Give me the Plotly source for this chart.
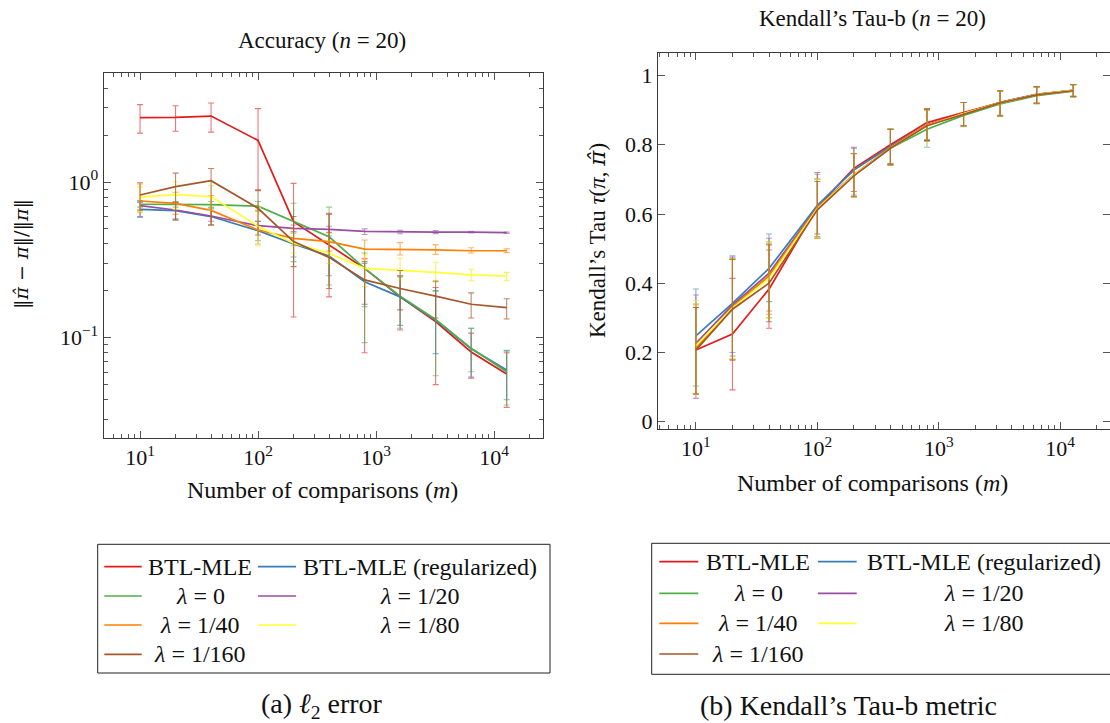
import plotly.graph_objects as go

# ---------------- data ----------------
m = [10, 20, 40, 100, 200, 400, 800, 1600, 3200, 6400, 12800]

names = ["BTL-MLE", "BTL-MLE (regularized)", "<i>λ</i> = 0", "<i>λ</i> = 1/20",
         "<i>λ</i> = 1/40", "<i>λ</i> = 1/80", "<i>λ</i> = 1/160"]
colors = ["#e41a1c", "#377eb8", "#4daf4a", "#984ea3", "#ff7f00", "#ffff33", "#a65628"]
err_colors = ["rgba(228,26,28,0.6)", "rgba(55,126,184,0.6)", "rgba(77,175,74,0.6)",
              "rgba(152,78,163,0.6)", "rgba(255,127,0,0.6)", "rgba(235,235,40,0.7)",
              "rgba(166,86,40,0.7)"]

# l2 error (relative) : mean, lower, upper
l2_mle      = [2.59, 2.60, 2.65, 1.85, 0.556, 0.394, 0.279, 0.183, 0.127, 0.081, 0.0585]
l2_mle_lo   = [2.06, 2.12, 2.09, 0.88, 0.136, 0.183, 0.080, 0.112, 0.050, 0.055, 0.0357]
l2_mle_hi   = [3.14, 3.09, 3.22, 2.96, 0.98, 0.62, 0.32, 0.25, 0.21, 0.107, 0.080]
l2_reg      = [0.667, 0.655, 0.60, 0.487, 0.40, 0.335, 0.229, 0.183, 0.130, 0.085, 0.062]
l2_reg_lo   = [0.593, 0.58, 0.53, 0.42, 0.33, 0.25, 0.158, 0.120, 0.079, 0.056, 0.040]
l2_reg_hi   = [0.74, 0.74, 0.68, 0.56, 0.47, 0.45, 0.30, 0.246, 0.20, 0.115, 0.083]
l2_l0       = [0.72, 0.718, 0.716, 0.70, 0.556, 0.445, 0.279, 0.185, 0.131, 0.0855, 0.0605]
l2_l0_lo    = [0.69, 0.69, 0.69, 0.65, 0.308, 0.218, 0.093, 0.115, 0.057, 0.0605, 0.037]
l2_l0_hi    = [0.75, 0.75, 0.75, 0.75, 0.73, 0.69, 0.35, 0.25, 0.20, 0.115, 0.082]
l2_l20      = [0.706, 0.661, 0.605, 0.524, 0.504, 0.497, 0.482, 0.477, 0.477, 0.476, 0.473]
l2_l20_lo   = [0.60, 0.57, 0.56, 0.49, 0.48, 0.475, 0.46, 0.465, 0.466, 0.47, 0.468]
l2_l20_hi   = [0.76, 0.74, 0.66, 0.56, 0.53, 0.52, 0.50, 0.49, 0.488, 0.482, 0.478]
l2_l40      = [0.755, 0.73, 0.657, 0.492, 0.435, 0.414, 0.371, 0.371, 0.367, 0.362, 0.362]
l2_l40_lo   = [0.64, 0.62, 0.53, 0.40, 0.39, 0.36, 0.324, 0.34, 0.343, 0.35, 0.352]
l2_l40_hi   = [0.97, 0.86, 0.82, 0.66, 0.50, 0.47, 0.424, 0.408, 0.396, 0.378, 0.372]
l2_l80      = [0.80, 0.83, 0.806, 0.52, 0.404, 0.348, 0.279, 0.272, 0.263, 0.253, 0.249]
l2_l80_lo   = [0.645, 0.667, 0.66, 0.39, 0.35, 0.30, 0.213, 0.235, 0.228, 0.232, 0.232]
l2_l80_hi   = [0.93, 1.0, 0.95, 0.69, 0.47, 0.42, 0.34, 0.324, 0.305, 0.275, 0.263]
l2_l160     = [0.825, 0.933, 1.02, 0.678, 0.414, 0.328, 0.235, 0.207, 0.185, 0.164, 0.156]
l2_l160_lo  = [0.66, 0.57, 0.53, 0.457, 0.286, 0.207, 0.164, 0.151, 0.134, 0.134, 0.132]
l2_l160_hi  = [0.99, 1.14, 1.22, 0.89, 0.60, 0.63, 0.308, 0.27, 0.231, 0.194, 0.178]

# Kendall's tau-b : mean, lower, upper
kt_mle      = [0.207, 0.2535, 0.383, 0.62, 0.732, 0.80, 0.864, 0.893, 0.922, 0.945, 0.957]
kt_mle_lo   = [0.08, 0.092, 0.27, 0.53, 0.665, 0.742, 0.812, 0.855, 0.884, 0.92, 0.939]
kt_mle_hi   = [0.33, 0.414, 0.496, 0.72, 0.793, 0.845, 0.903, 0.922, 0.956, 0.968, 0.974]
kt_reg      = [0.248, 0.342, 0.443, 0.625, 0.727, 0.796, 0.857, 0.89, 0.922, 0.946, 0.957]
kt_reg_lo   = [0.103, 0.20, 0.347, 0.535, 0.655, 0.745, 0.815, 0.855, 0.885, 0.92, 0.94]
kt_reg_hi   = [0.3835, 0.479, 0.5425, 0.715, 0.79, 0.845, 0.90, 0.922, 0.956, 0.968, 0.974]
kt_l0       = [0.21, 0.332, 0.421, 0.62, 0.713, 0.79, 0.845, 0.885, 0.918, 0.942, 0.955]
kt_l0_lo    = [0.08, 0.18, 0.30, 0.53, 0.65, 0.742, 0.793, 0.852, 0.882, 0.918, 0.938]
kt_l0_hi    = [0.34, 0.47, 0.52, 0.70, 0.775, 0.845, 0.90, 0.922, 0.955, 0.967, 0.972]
kt_l20      = [0.2266, 0.337, 0.429, 0.62, 0.713, 0.792, 0.857, 0.89, 0.922, 0.946, 0.957]
kt_l20_lo   = [0.0676, 0.19, 0.32, 0.53, 0.65, 0.745, 0.81, 0.855, 0.884, 0.92, 0.94]
kt_l20_hi   = [0.366, 0.475, 0.53, 0.70, 0.775, 0.845, 0.903, 0.922, 0.956, 0.968, 0.974]
kt_l40      = [0.212, 0.332, 0.421, 0.618, 0.713, 0.792, 0.857, 0.89, 0.922, 0.945, 0.957]
kt_l40_lo   = [0.08, 0.18, 0.31, 0.53, 0.65, 0.745, 0.812, 0.855, 0.884, 0.92, 0.94]
kt_l40_hi   = [0.337, 0.47, 0.515, 0.70, 0.775, 0.845, 0.903, 0.922, 0.956, 0.968, 0.974]
kt_l80      = [0.22, 0.328, 0.414, 0.615, 0.713, 0.79, 0.855, 0.89, 0.921, 0.945, 0.957]
kt_l80_lo   = [0.08, 0.18, 0.30, 0.53, 0.65, 0.742, 0.81, 0.855, 0.884, 0.92, 0.94]
kt_l80_hi   = [0.35, 0.47, 0.52, 0.70, 0.775, 0.845, 0.90, 0.922, 0.956, 0.968, 0.974]
kt_l160     = [0.207, 0.325, 0.40, 0.612, 0.71, 0.79, 0.855, 0.888, 0.921, 0.944, 0.956]
kt_l160_lo  = [0.08, 0.178, 0.289, 0.5425, 0.65, 0.742, 0.812, 0.855, 0.884, 0.92, 0.939]
kt_l160_hi  = [0.33, 0.469, 0.511, 0.694, 0.774, 0.845, 0.903, 0.922, 0.956, 0.968, 0.974]

x_tickvals = [10, 100, 1000, 10000]
x_ticktext = ["10<sup>1</sup>", "10<sup>2</sup>", "10<sup>3</sup>", "10<sup>4</sup>"]
l2_tickvals = [0.1, 1]
l2_ticktext = ["10<sup>−1</sup>", "10<sup>0</sup>"]
kt_tickvals = [0, 0.2, 0.4, 0.6, 0.8, 1]
kt_ticktext = ["0", "0.2", "0.4", "0.6", "0.8", "1"]

l2_series = [(l2_mle, l2_mle_lo, l2_mle_hi), (l2_reg, l2_reg_lo, l2_reg_hi),
             (l2_l0, l2_l0_lo, l2_l0_hi), (l2_l20, l2_l20_lo, l2_l20_hi),
             (l2_l40, l2_l40_lo, l2_l40_hi), (l2_l80, l2_l80_lo, l2_l80_hi),
             (l2_l160, l2_l160_lo, l2_l160_hi)]
kt_series = [(kt_mle, kt_mle_lo, kt_mle_hi), (kt_reg, kt_reg_lo, kt_reg_hi),
             (kt_l0, kt_l0_lo, kt_l0_hi), (kt_l20, kt_l20_lo, kt_l20_hi),
             (kt_l40, kt_l40_lo, kt_l40_hi), (kt_l80, kt_l80_lo, kt_l80_hi),
             (kt_l160, kt_l160_lo, kt_l160_hi)]

# ---------------- figure ----------------
W, H = 1110, 723
FONT = "Liberation Serif"
SYM = "DejaVu Serif"


def px(x):
    return x / W


def py(y):
    return 1 - y / H


fig = go.Figure()

for (series, xa, ya) in [(l2_series, "x", "y"), (kt_series, "x2", "y2")]:
    for i, (mean, lo, hi) in enumerate(series):
        fig.add_trace(go.Scatter(
            x=m, y=mean, mode="lines", xaxis=xa, yaxis=ya,
            line=dict(color=colors[i], width=1.7),
            error_y=dict(type="data", symmetric=False,
                         array=[h - v for h, v in zip(hi, mean)],
                         arrayminus=[v - l for l, v in zip(lo, mean)],
                         color=err_colors[i], thickness=1.1, width=3),
            showlegend=False, hoverinfo="skip"))

minor_log = []
for dec in [1, 10, 100, 1000, 10000]:
    for k in range(2, 10):
        minor_log.append(k * dec)
minor_log_y = []
for dec in [0.01, 0.1, 1]:
    for k in range(2, 10):
        minor_log_y.append(k * dec)

common = dict(showline=True, linecolor="#3a3a3a", linewidth=1, mirror="allticks",
              ticks="inside", ticklen=7, tickcolor="#555", showgrid=False,
              zeroline=False, automargin=False,
              tickfont=dict(family=FONT, size=22, color="#111"))

fig.update_layout(
    width=W, height=H,
    margin=dict(l=0, r=0, t=0, b=0),
    paper_bgcolor="white", plot_bgcolor="white",
    font=dict(family=FONT, color="#111"),
    xaxis=dict(domain=[px(103.7), px(543)], type="log", range=[0.692, 4.415],
               tickmode="array", tickvals=x_tickvals, ticktext=x_ticktext,
               minor=dict(tickmode="array", tickvals=minor_log, ticks="inside",
                          ticklen=4, tickcolor="#555"),
               anchor="y", **common),
    yaxis=dict(domain=[py(437.7), py(72.7)], type="log", range=[-1.642, 0.702],
               tickmode="array", tickvals=l2_tickvals, ticktext=l2_ticktext,
               minor=dict(tickmode="array", tickvals=minor_log_y, ticks="inside",
                          ticklen=4, tickcolor="#555"),
               anchor="x", **common),
    xaxis2=dict(domain=[px(658), 1.0], type="log", range=[0.688, 4.41],
                tickmode="array", tickvals=x_tickvals, ticktext=x_ticktext,
                minor=dict(tickmode="array", tickvals=minor_log, ticks="inside",
                           ticklen=4, tickcolor="#555"),
                anchor="y2", **common),
    yaxis2=dict(domain=[py(429), py(52.7)], range=[-0.021, 1.066],
                tickmode="array", tickvals=kt_tickvals, ticktext=kt_ticktext,
                anchor="x2", **common),
)

ann = []


def text(x, y, s, size, angle=0, family=FONT):
    ann.append(dict(x=px(x), y=py(y), xref="paper", yref="paper", text=s,
                    showarrow=False, xanchor="center", yanchor="middle",
                    textangle=angle, font=dict(family=family, size=size, color="#111")))


pihat = "<span style='font-family:DejaVu Serif'><i>π̂</i></span>"

text(322, 40, "Accuracy (<i>n</i> = 20)", 23)
text(872, 18, "Kendall’s Tau-b (<i>n</i> = 20)", 23)
text(322, 490, "Number of comparisons (<i>m</i>)", 24)
text(872, 483, "Number of comparisons (<i>m</i>)", 24)
text(22, 254, "‖<i>π̂</i> − <i>π</i>‖/‖<i>π</i>‖", 19, angle=-90, family=SYM)
text(597, 240, "Kendall’s Tau <i>τ</i>(<i>π</i>, " + pihat + ")", 23, angle=-90)
text(322, 705, "(a) <i>ℓ</i><sub>2</sub> error", 28)
text(848, 705, "(b) Kendall’s Tau-b metric", 28)

shapes = []


def legend(box, row_y, col_line, col_text):
    x0, y0, x1, y1 = box
    shapes.append(dict(type="rect", xref="paper", yref="paper",
                       x0=px(x0), x1=px(x1), y0=py(y1), y1=py(y0),
                       line=dict(color="#222", width=1), fillcolor="rgba(0,0,0,0)"))
    for i, nm in enumerate(names):
        r, c = divmod(i, 2)
        yy = row_y[r]
        la, lb = col_line[c]
        shapes.append(dict(type="line", xref="paper", yref="paper",
                           x0=px(la), x1=px(lb), y0=py(yy), y1=py(yy),
                           line=dict(color=colors[i], width=1.7)))
        text(col_text[c], yy, nm, 24)


legend((97.7, 544.3, 550, 673), [566.7, 596, 625, 654.3],
       [(104.3, 141.7), (258, 296)], [200, 420])
legend((651.7, 543.3, 1115, 674.3), [561.7, 593.3, 623.3, 654],
       [(659.3, 698.3), (818, 856.7)], [758, 984])

fig.update_layout(annotations=ann, shapes=shapes)
fig.write_html("out.html")
